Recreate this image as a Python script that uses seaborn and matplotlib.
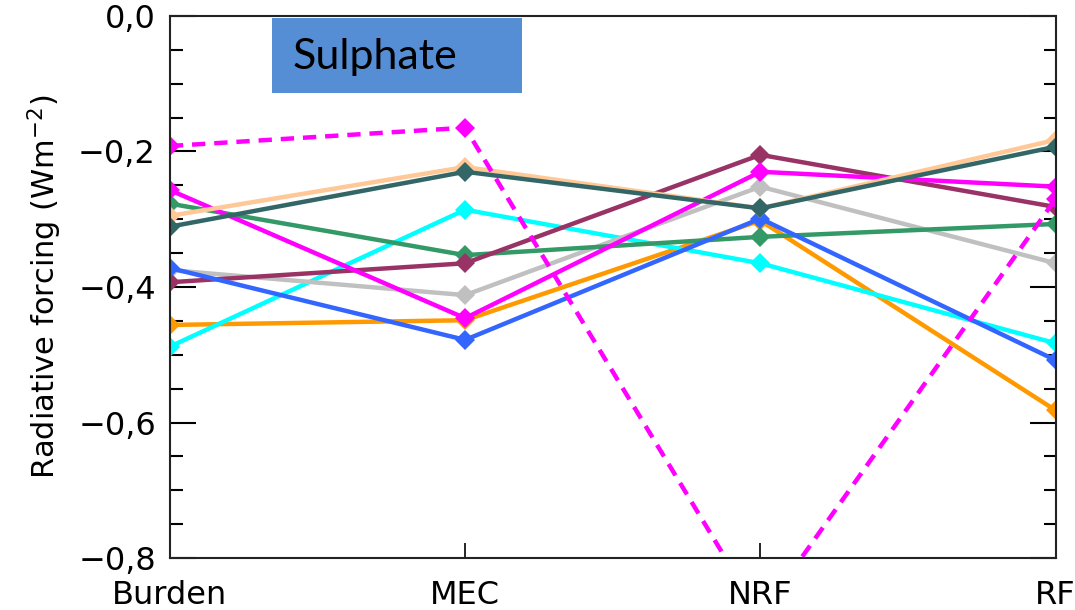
import pandas as pd
import matplotlib.pyplot as plt
import seaborn as sns
from matplotlib.ticker import MultipleLocator, FixedLocator

# Radiative forcing (Wm-2) for sulphate, per model
metrics = ['Burden', 'MEC', 'NRF', 'RF']

model_a = [-0.192, -0.165, -0.885, -0.270]   # magenta dashed
model_b = [-0.257, -0.446, -0.230, -0.252]   # magenta
model_c = [-0.277, -0.353, -0.326, -0.307]   # green
model_d = [-0.295, -0.223, -0.284, -0.183]   # peach
model_e = [-0.311, -0.230, -0.284, -0.193]   # dark slate
model_f = [-0.372, -0.478, -0.299, -0.508]   # blue
model_g = [-0.375, -0.412, -0.252, -0.365]   # gray
model_h = [-0.393, -0.365, -0.205, -0.282]   # maroon
model_i = [-0.456, -0.449, -0.302, -0.582]   # orange
model_j = [-0.488, -0.286, -0.365, -0.483]   # cyan

models = {
    'model_i': model_i,
    'model_j': model_j,
    'model_g': model_g,
    'model_c': model_c,
    'model_h': model_h,
    'model_f': model_f,
    'model_b': model_b,
    'model_d': model_d,
    'model_e': model_e,
    'model_a': model_a,
}
colors = {
    'model_a': '#FF00FF',
    'model_b': '#FF00FF',
    'model_c': '#339966',
    'model_d': '#FFC896',
    'model_e': '#336666',
    'model_f': '#3366FF',
    'model_g': '#C0C0C0',
    'model_h': '#993366',
    'model_i': '#FF9900',
    'model_j': '#00FFFF',
}

rows = []
for name, vals in models.items():
    for m, v in zip(metrics, vals):
        rows.append({'metric': m, 'value': v, 'model': name})
df = pd.DataFrame(rows)

sns.set_style('white')
plt.rcParams['font.family'] = ['DejaVu Sans']
plt.rcParams['text.color'] = 'black'
plt.rcParams['axes.labelcolor'] = 'black'
plt.rcParams['xtick.color'] = 'black'
plt.rcParams['ytick.color'] = 'black'

fig = plt.figure(figsize=(10.75, 6.1), dpi=100)
ax = fig.add_axes([0.158, 0.085, 0.824, 0.889])

dash_map = {n: (3, 2) if n == 'model_a' else '' for n in models}
sns.lineplot(data=df, x='metric', y='value', hue='model', style='model',
             palette=colors, dashes=dash_map, markers={n: 'D' for n in models},
             markersize=10, markeredgewidth=0, linewidth=3.2, sort=False,
             legend=False, ax=ax)

ax.set_xlim(0, 3)
ax.set_ylim(-0.8, 0.0)
ax.set_xlabel('')
ax.set_ylabel('Radiative forcing (Wm$^{-2}$)', fontsize=22)
ax.yaxis.set_label_coords(-0.12, 0.5)

ax.yaxis.set_major_locator(FixedLocator([0.0, -0.2, -0.4, -0.6, -0.8]))
ax.set_yticklabels(['0,0', '\u22120,2', '\u22120,4', '\u22120,6', '\u22120,8'], fontsize=23)
ax.yaxis.set_minor_locator(MultipleLocator(0.05))
ax.tick_params(axis='y', which='major', direction='in', length=19, width=1.5,
               left=True, right=True, pad=10)
ax.tick_params(axis='y', which='minor', direction='in', length=9, width=1.5,
               left=True, right=True)
ax.tick_params(axis='x', which='major', direction='in', length=11, width=1.2,
               bottom=True, labelsize=23, pad=16)

for s in ax.spines.values():
    s.set_visible(True)
    s.set_color('#222222')
    s.set_linewidth(1.5)

box = plt.Rectangle((0.1155, 0.858), 0.2825, 0.138, transform=ax.transAxes,
                    facecolor='#558ED5', edgecolor='none', zorder=5)
ax.add_patch(box)
ax.text(0.138, 0.925, 'Sulphate', transform=ax.transAxes, fontsize=31,
        family='Lato', color='black', va='center', ha='left', zorder=6)

fig.savefig('out.png', dpi=100)
